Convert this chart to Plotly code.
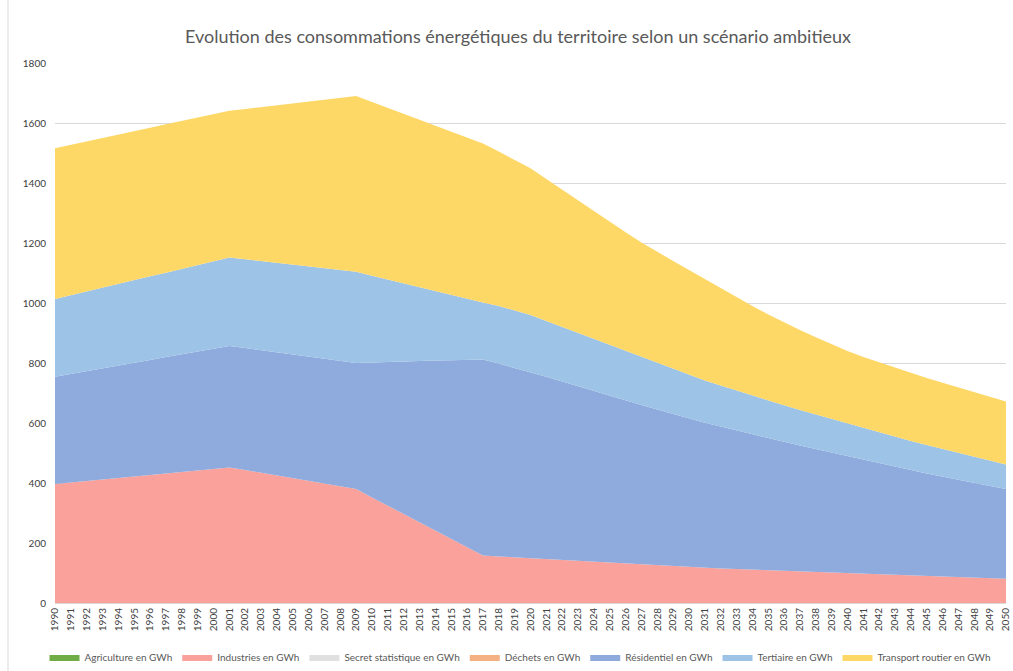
import plotly.graph_objects as go

years = list(range(1990, 2051))

agriculture = [0] * 61
secret_statistique = [0] * 61
dechets = [0] * 61

industries = [
    397, 402, 407, 412, 417, 422, 427, 432, 437, 442, 447, 452,
    443, 434, 425, 416, 407, 398, 389, 380,
    352, 324, 297, 269, 241, 213, 186, 158,
    155, 152, 149, 146, 143, 140, 137, 134, 131, 128, 125, 122, 120,
    117, 115, 113, 111, 109, 107, 105, 103, 101, 99,
    97, 95, 93, 91, 89, 87, 86, 84, 83, 81,
]

residentiel = [
    357, 361, 366, 370, 374, 379, 383, 388, 392, 396, 401, 405,
    407, 409, 411, 413, 414, 416, 418, 420,
    450, 480, 509, 538, 567, 596, 624, 654,
    643, 632, 621, 608, 595, 582, 569, 556, 544, 532, 520, 508, 495,
    484, 473, 462, 451, 440, 430, 420, 410, 400, 390,
    381, 371, 361, 352, 343, 334, 324, 316, 307, 299,
]

tertiaire = [
    259, 263, 265, 269, 273, 275, 279, 281, 285, 289, 291, 295,
    296, 297, 298, 299, 301, 302, 303, 304,
    289, 274, 260, 246, 232, 218, 205, 190,
    192, 191, 190, 186, 182, 178, 174, 170, 165, 160, 155, 150, 145,
    141, 137, 133, 129, 126, 122, 118, 115, 112, 109,
    105, 102, 100, 97, 95, 93, 91, 88, 85, 82,
]

transport_routier = [
    503, 501, 501, 499, 497, 497, 495, 495, 493, 491, 491, 489,
    501, 513, 525, 538, 550, 562, 574, 586,
    579, 573, 565, 558, 551, 544, 537, 530,
    515, 502, 489, 473, 457, 441, 426, 411, 396, 382, 370, 360, 350,
    338, 325, 310, 299, 287, 276, 267, 258, 249, 242,
    237, 234, 230, 226, 223, 220, 217, 214, 212, 210,
]

series = [
    ("Agriculture en GWh", agriculture, "#70AD47"),
    ("Industries en GWh", industries, "#F9A19A"),
    ("Secret statistique en GWh", secret_statistique, "#E0E0E0"),
    ("Déchets en GWh", dechets, "#F4B183"),
    ("Résidentiel en GWh", residentiel, "#8FAADC"),
    ("Tertiaire en GWh", tertiaire, "#9DC3E6"),
    ("Transport routier en GWh", transport_routier, "#FDD867"),
]

FONT = "Lato, 'Open Sans', Arial, sans-serif"
GREY = "#595959"

fig = go.Figure()
for name, vals, col in series:
    fig.add_trace(go.Scatter(
        x=years, y=vals, name=name, mode="lines",
        stackgroup="one", line=dict(width=0, color=col),
        fillcolor=col,
    ))

fig.update_layout(
    width=1013, height=671,
    margin=dict(l=55, r=7, t=63, b=68, autoexpand=False),
    paper_bgcolor="white", plot_bgcolor="white",
    title=dict(
        text="Evolution des consommations énergétiques du territoire selon un scénario ambitieux",
        x=518 / 1013, xref="container", xanchor="center", y=1 - 37 / 671, yanchor="middle",
        font=dict(family=FONT, size=18, color=GREY),
    ),
    font=dict(family=FONT, color=GREY),
    showlegend=True,
    legend=dict(
        orientation="h", xref="container", x=520 / 1013, xanchor="center",
        yref="container", y=1 - 657 / 671, yanchor="middle",
        font=dict(family=FONT, size=10, color=GREY),
        traceorder="normal", itemwidth=30, tracegroupgap=0,
    ),
    xaxis=dict(
        range=[1990, 2050], tickmode="array", tickvals=years,
        ticktext=[str(y) for y in years], tickangle=-90,
        tickfont=dict(family=FONT, size=10, color="#404040"),
        showgrid=False, showline=True, linecolor="#D9D9D9", linewidth=1,
        ticks="", zeroline=False, ticklabeloverflow="allow",
    ),
    yaxis=dict(
        range=[0, 1800], tickmode="array",
        tickvals=[0, 200, 400, 600, 800, 1000, 1200, 1400, 1600, 1800],
        tickfont=dict(family=FONT, size=10, color="#404040"),
        showgrid=True, gridcolor="#D9D9D9", gridwidth=1,
        zeroline=False, showline=False, ticks="",
        ticklabelstandoff=8,
    ),
    shapes=[dict(type="line", xref="paper", yref="paper",
                 x0=(8 - 55) / 951, x1=(8 - 55) / 951, y0=-68 / 540, y1=(671 - 68) / 540,
                 line=dict(color="#D9D9D9", width=1))],
)

fig.write_html(
    "out.html",
    config={"displayModeBar": False},
    post_script="document.body.style.margin='0px';document.body.style.overflow='hidden';",
)
